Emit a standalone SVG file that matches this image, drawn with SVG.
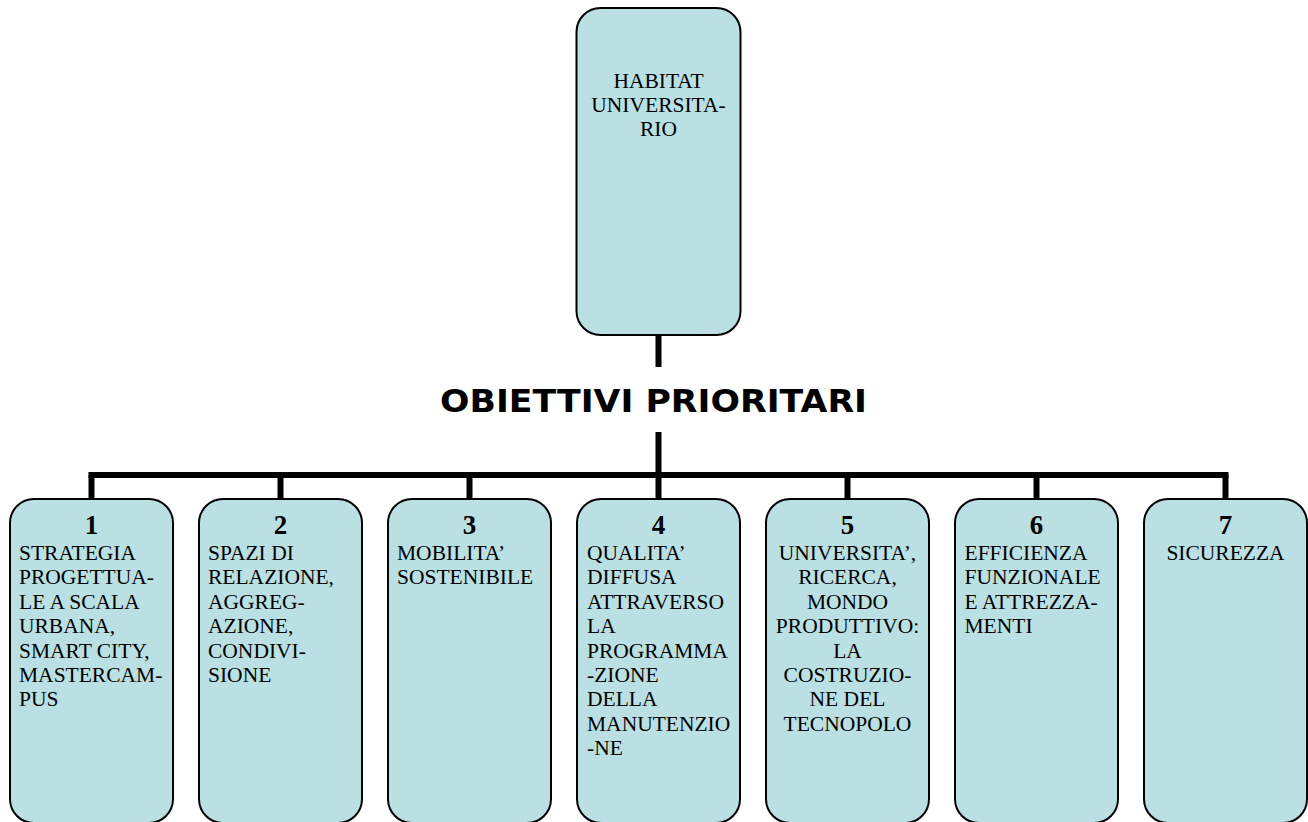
<svg xmlns="http://www.w3.org/2000/svg" width="1308" height="822" viewBox="0 0 1308 822">
<style>
.box{fill:#BAE0E3;stroke:#000;stroke-width:2}
.t{font-family:"Liberation Serif","Times New Roman",serif;font-size:21.5px;fill:#000}
.c{text-anchor:middle}
.n{font-family:"Liberation Serif","Times New Roman",serif;font-size:27px;font-weight:bold;fill:#000;text-anchor:middle}
.conn{stroke:#000;stroke-width:6;fill:none}
.title{font-family:"DejaVu Sans",Verdana,sans-serif;font-size:32px;font-weight:bold;fill:#000}
</style>
<rect width="1308" height="822" fill="#fff"/>
<g id="connectors">
<line class="conn" x1="658.5" y1="335" x2="658.5" y2="367"/>
<line class="conn" x1="658.5" y1="432" x2="658.5" y2="475"/>
<line class="conn" x1="88.5" y1="475" x2="1228.5" y2="475"/>
<line class="conn" x1="91.5" y1="475" x2="91.5" y2="499"/>
<line class="conn" x1="280.5" y1="475" x2="280.5" y2="499"/>
<line class="conn" x1="469.5" y1="475" x2="469.5" y2="499"/>
<line class="conn" x1="658.5" y1="475" x2="658.5" y2="499"/>
<line class="conn" x1="847.5" y1="475" x2="847.5" y2="499"/>
<line class="conn" x1="1036.5" y1="475" x2="1036.5" y2="499"/>
<line class="conn" x1="1225.5" y1="475" x2="1225.5" y2="499"/>
</g>
<g id="habitat">
<rect class="box" x="576.5" y="8" width="164" height="327" rx="24"/>
<text class="t c" x="658.5" y="88">HABITAT</text>
<text class="t c" x="658.5" y="112">UNIVERSITA-</text>
<text class="t c" x="658.5" y="136">RIO</text>
</g>
<g id="title">
<text class="title" x="440" y="412" textLength="427" lengthAdjust="spacingAndGlyphs">OBIETTIVI PRIORITARI</text>
</g>
<g id="obj1">
<rect class="box" x="10" y="499" width="163" height="324" rx="24"/>
<text class="n" x="91.5" y="534">1</text>
<text class="t" x="19" y="560">STRATEGIA</text>
<text class="t" x="19" y="584.4">PROGETTUA-</text>
<text class="t" x="19" y="608.8">LE A SCALA</text>
<text class="t" x="19" y="633.2">URBANA,</text>
<text class="t" x="19" y="657.6">SMART CITY,</text>
<text class="t" x="19" y="682">MASTERCAM-</text>
<text class="t" x="19" y="706.4">PUS</text>
</g>
<g id="obj2">
<rect class="box" x="199" y="499" width="163" height="324" rx="24"/>
<text class="n" x="280.5" y="534">2</text>
<text class="t" x="208" y="560">SPAZI DI</text>
<text class="t" x="208" y="584.4">RELAZIONE,</text>
<text class="t" x="208" y="608.8">AGGREG-</text>
<text class="t" x="208" y="633.2">AZIONE,</text>
<text class="t" x="208" y="657.6">CONDIVI-</text>
<text class="t" x="208" y="682">SIONE</text>
</g>
<g id="obj3">
<rect class="box" x="388" y="499" width="163" height="324" rx="24"/>
<text class="n" x="469.5" y="534">3</text>
<text class="t" x="397" y="560">MOBILITA’</text>
<text class="t" x="397" y="584.4">SOSTENIBILE</text>
</g>
<g id="obj4">
<rect class="box" x="577" y="499" width="163" height="324" rx="24"/>
<text class="n" x="658.5" y="534">4</text>
<text class="t" x="587" y="560">QUALITA’</text>
<text class="t" x="587" y="584.4">DIFFUSA</text>
<text class="t" x="587" y="608.8">ATTRAVERSO</text>
<text class="t" x="587" y="633.2">LA</text>
<text class="t" x="587" y="657.6">PROGRAMMA</text>
<text class="t" x="587" y="682">-ZIONE</text>
<text class="t" x="587" y="706.4">DELLA</text>
<text class="t" x="587" y="730.8">MANUTENZIO</text>
<text class="t" x="587" y="755.2">-NE</text>
</g>
<g id="obj5">
<rect class="box" x="766" y="499" width="163" height="324" rx="24"/>
<text class="n" x="847.5" y="534">5</text>
<text class="t c" x="847.5" y="560">UNIVERSITA’,</text>
<text class="t c" x="847.5" y="584.4">RICERCA,</text>
<text class="t c" x="847.5" y="608.8">MONDO</text>
<text class="t c" x="847.5" y="633.2">PRODUTTIVO:</text>
<text class="t c" x="847.5" y="657.6">LA</text>
<text class="t c" x="847.5" y="682">COSTRUZIO-</text>
<text class="t c" x="847.5" y="706.4">NE DEL</text>
<text class="t c" x="847.5" y="730.8">TECNOPOLO</text>
</g>
<g id="obj6">
<rect class="box" x="955" y="499" width="163" height="324" rx="24"/>
<text class="n" x="1036.5" y="534">6</text>
<text class="t" x="964.5" y="560">EFFICIENZA</text>
<text class="t" x="964.5" y="584.4">FUNZIONALE</text>
<text class="t" x="964.5" y="608.8">E ATTREZZA-</text>
<text class="t" x="964.5" y="633.2">MENTI</text>
</g>
<g id="obj7">
<rect class="box" x="1144" y="499" width="163" height="324" rx="24"/>
<text class="n" x="1225.5" y="534">7</text>
<text class="t c" x="1225.5" y="560">SICUREZZA</text>
</g>
</svg>
